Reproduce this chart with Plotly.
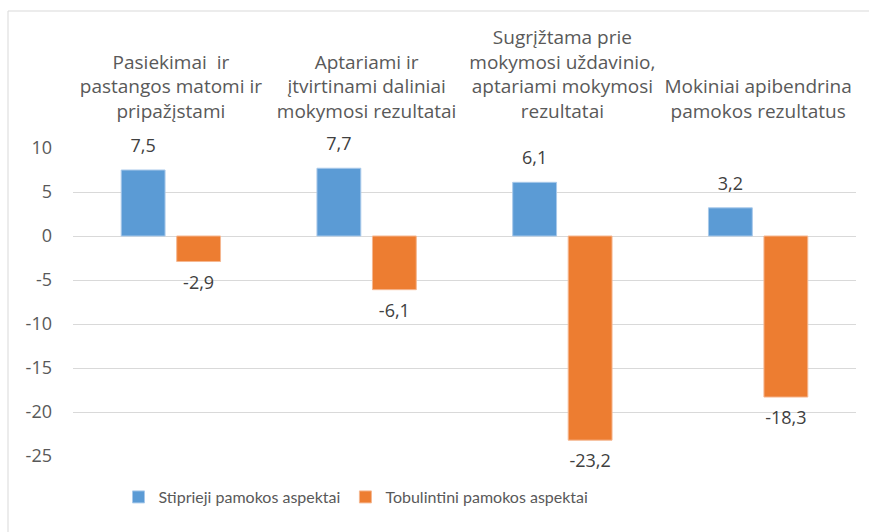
import plotly.graph_objects as go

categories = [
    "Pasiekimai  ir<br>pastangos matomi ir<br>pripažįstami",
    "Aptariami ir<br>įtvirtinami daliniai<br>mokymosi rezultatai",
    "Sugrįžtama prie<br>mokymosi uždavinio,<br>aptariami mokymosi<br>rezultatai",
    "Mokiniai apibendrina<br>pamokos rezultatus",
]
stiprieji = [7.5, 7.7, 6.1, 3.2]
tobulintini = [-2.9, -6.1, -23.2, -18.3]
series_names = ["Stiprieji pamokos aspektai", "Tobulintini pamokos aspektai"]
y_ticks = [10, 5, 0, -5, -10, -15, -20, -25]

colors = ["#5B9BD5", "#ED7D31"]
edge = ["#A9C9EA", "#F5B791"]
FONT = "Open Sans"
TXT = "#404040"
AX = "#595959"

fig = go.Figure()
for name, vals, col, ec, grp in zip(series_names, [stiprieji, tobulintini], colors, edge, ["a", "b"]):
    fig.add_trace(go.Bar(
        x=categories, y=vals, name=name, offsetgroup=grp,
        marker=dict(color=col, line=dict(color=ec, width=1)),
        hoverinfo="skip",
    ))
for vals, grp in zip([stiprieji, tobulintini], ["a", "b"]):
    fig.add_trace(go.Scatter(
        x=categories, y=vals, offsetgroup=grp, mode="markers+text",
        marker=dict(size=20, opacity=0),
        text=[f"{v:.1f}".replace(".", ",") for v in vals],
        textposition=["top center" if v >= 0 else "bottom center" for v in vals],
        textfont=dict(family=FONT, size=18, color=TXT),
        cliponaxis=False,
        showlegend=False, hoverinfo="skip",
    ))

# chart-area border (left and top edges visible in the crop)
xl = (8 - 73) / 783
yt = (456 - 11) / 308
yb = (456 - 540) / 308
fig.add_shape(type="line", xref="paper", yref="paper", x0=xl, x1=xl, y0=yb, y1=yt,
              line=dict(color="#D9D9D9", width=1))
fig.add_shape(type="line", xref="paper", yref="paper", x0=xl, x1=1.1, y0=yt, y1=yt,
              line=dict(color="#D9D9D9", width=1))

fig.update_layout(
    width=869, height=532,
    margin=dict(l=73, r=13, t=148, b=76, autoexpand=False),
    paper_bgcolor="white", plot_bgcolor="white",
    barmode="group", bargap=0.433, bargroupgap=0.21,
    scattermode="group",
    separators=",.",
    font=dict(family=FONT, size=16, color=AX),
    xaxis=dict(side="top", showgrid=False, zeroline=False, showline=False,
               tickfont=dict(family=FONT, size=19, color=AX),
               ticks="", ticklabelstandoff=25, automargin=False),
    yaxis=dict(range=[-25, 10], tickvals=y_ticks, ticktext=[str(v) for v in y_ticks],
               showgrid=True, gridcolor="#D9D9D9", gridwidth=1,
               zeroline=True, zerolinecolor="#D9D9D9", zerolinewidth=1,
               showline=False, ticks="", ticklabelstandoff=20, automargin=False,
               tickfont=dict(family=FONT, size=18, color=AX)),
    legend=dict(orientation="h", x=(356 - 73) / 783, xanchor="center",
                y=(456 - 497) / 308, yanchor="middle",
                font=dict(family="Lato", size=16, color=AX),
                itemwidth=30, traceorder="normal"),
    showlegend=True,
)

fig.write_html("out.html", config={"displayModeBar": False},
               post_script="document.body.style.margin='0';")
